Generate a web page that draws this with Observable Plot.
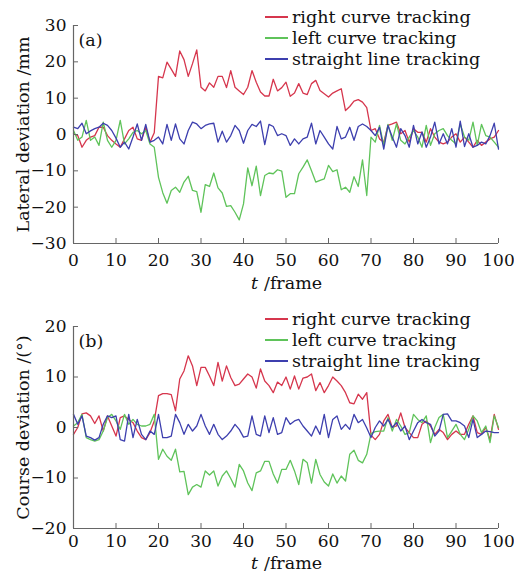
<!DOCTYPE html>
<html><head><meta charset="utf-8">
<script src="https://cdn.jsdelivr.net/npm/d3@7"></script>
<script src="https://cdn.jsdelivr.net/npm/@observablehq/plot@0.6"></script>
<style>
body{margin:0;background:#fff;}
#wrap{position:relative;width:514px;height:578px;font-family:"DejaVu Serif",serif;background:#fff;}
#wrap svg{display:block;}
.legend{position:absolute;font-size:17.5px;line-height:21px;color:#111;}
.legend .row{display:flex;align-items:center;white-space:nowrap;height:21px;}
.legend .sw{display:inline-block;width:23px;height:1.5px;margin-right:4px;}
</style></head><body><div id="wrap"></div>
<script>
const frames = d3.range(0, 101);
const xTicks = [0,10,20,30,40,50,60,70,80,90,100];
const latTicks = [-30,-20,-10,0,10,20,30];
const courseTicks = [-20,-10,0,10,20];
const seriesNames = ["right curve tracking","left curve tracking","straight line tracking"];
const seriesColors = ["#d6364d","#5fc35a","#3d3fae"];

// (a) Lateral deviation /mm
const latRight = [0.2,-0.3,-3.5,-1.6,-0.7,-0.3,2.0,2.0,-0.3,-1.6,-2.6,-3.5,-1.2,1.1,2.0,-1.2,-1.6,2.0,-2.1,0.5,
  16,15.6,19.9,18,16,23,20.6,16,19.5,23.3, 13,12,14.2,13,16,16,12.9,17.6,13,12,
  11,13,17.6,14.4,11.7,10.6,10.6,15.2,12,12.9, 14.4,10.5,11.4,14,11.4,11,14,14.9,12.1,11.2,
  10.3,11.4,12,12.6,6.6,7.7,9.2,9.6,8.9,7.4,
  1.1,1.6,-1.2,-2.1,2.5,2.9,3.4,0.2,1.1,-2.1,1.6,0.6,0.6,-2.1,1.6,-0.7,-2.1,-2.6,-2.1,-0.7,0.2,-2.1,-0.7,-2.1,-3.5,-1.6,-3.0,-2.1,-1.2,-0.7,1.1];
const latLeft = [1.1,-1.6,-0.7,3.9,-1.6,-0.7,-3.0,3.4,-1.6,-3.5,-1.6,3.9,-2.6,-1.2,0.6,1.1,0.2,1.1,-2.6,-3.5,
  -11.8,-16,-18.9,-15.4,-14.5,-15.9,-13.1,-11.5,-15.4,-15.7, -21.4,-13.8,-14.3,-10.6,-14.7,-16.1,-19.8,-19.6,-21.4,-23.5,
  -19.1,-9.2,-14.1,-8.7,-16.8,-11.3,-10.6,-10.8,-9.7,-10.1, -17.3,-16.3,-16.3,-10.8,-9,-7,-10,-13.1,-12.6,-12.2,
  -8.5,-10.2,-9.7,-15.2,-14.5,-15.9,-11.6,-14.3,-7,-16.8,
  -0.7,-2.1,2.5,-3.0,2.8,-1.6,2.9,-1.6,-2.6,-0.7,1.1,-0.7,-3.5,2.5,-3.0,0.2,1.1,1.6,-0.3,-1.6,-2.6,2.9,-0.7,-1.6,3.4,-3.0,2.8,-0.3,-0.7,-2.1,-3.5];
const latStraight = [2.0,1.6,3.1,0.2,1.0,1.6,2.0,3.1,2.5,1.1,-1.0,-3.5,-2.1,-4.0,-0.7,2.9,-1.6,2.8,-2.1,-1.6,
  -0.7,-2.6,2.8,-1.6,2.9,-1.2,-2.6,1.1,3.4,2.9, 1.6,2.5,2.9,3.1,-2.1,0.9,-2.1,-0.3,2.5,1.1,
  -2.4,1.1,2.8,2.2,3.7,-2.8,2.8,2.2,-0.3,
  0.2,-0.3,-3.0,-1.2,-2.6,-1.2,-0.7,3.1,-2.6,1.1,-0.7,-2.6,-4.0,2.2,-1.2,-0.7,2.0,-1.6,2.2,2.9,2.2,
  1.1,-0.3,2.0,-4.0,2.5,-0.7,-3.5,1.6,-0.3,-3.5,2.5,-2.6,0.7,-3.5,-0.7,3.4,-2.6,0.2,-2.6,1.6,-3.5,3.7,-3.3,0.2,-3.5,-3.0,-2.1,-2.6,-0.3,3.1,-4.0];

// (b) Course deviation /(°)
const courseRight = [-1.36,0,2.7,2.9,2.3,0.8,2.3,-0.7,2.3,0.3,-1.7,1.96,2.3,1.6,0.96,-0.7,-2.0,-2.4,-1.0,1.3,
  6.3,6.7,6.7,6.5,3.3,9.6,11.2,14.2,12.2,8.3, 11.9,11.9,10.2,8.3,12.9,9.2,12.2,9.9,8.3,8.6,
  9.6,10.6,10,7.8,11.6,9.2,8.3,6.9,9,8.3, 10,7.6,10.2,7.6,9.8,10,10.6,7.3,8.9,6.9,
  8.3,10,9.2,8.3,6.9,4.9,4.7,6.6,5.6,6.9,
  -1.5,-2.4,-1.36,1.3,2.6,0,0.3,2.9,0,-1.0,-2.0,-2.0,0.63,1.3,0.3,-1.36,-0.37,-1.0,-2.4,-1.36,-0.7,-1.36,-1.36,0.63,2.3,-1.0,-1.36,0,-2.4,2.6,-0.37];
const courseLeft = [0.3,0.96,2.6,-2.0,-2.4,-2.7,-2.4,-0.7,1.96,2.6,1.3,-0.37,2.6,0.63,1.6,0.63,0.3,0.3,0.63,2.6,
  -6.3,-4.3,-5.7,-6.5,-4.3,-8.8,-8.7,-13.3,-11.8,-11.3, -11.8,-8.6,-9.4,-8.6,-11.6,-9.6,-8.6,-10.1,-11.8,-7.3,
  -8.6,-11,-12.5,-9,-8.6,-6.7,-6.7,-9.2,-11,-8.3, -8.3,-6.5,-8.6,-11.3,-6.3,-7,-11,-6.3,-9.3,-10.8,
  -11.6,-9.2,-11,-9.6,-10.6,-5.3,-4.5,-6.5,-7,-5.3,
  -1.2,-0.8,-0.7,-0.7,1.96,-0.7,1.6,0.3,-1.36,-1.0,2.6,1.6,0.96,2.3,-3.0,0,1.96,2.6,-2.0,-0.7,0.63,-1.36,-2.4,-0.37,2.3,1.3,-1.0,0.3,-3.0,2.3,0];
const courseStraight = [2.6,0.63,2.3,-1.7,-2.0,-2.5,-2.0,0.63,2.3,1.96,2.3,-2.4,-2.7,2.6,-2.0,1.6,-1.36,-2.4,-0.7,-1.36,
  2.6,-2.0,-2.0,-1.7,2.6,0.96,-1.36,0.63,-0.7,0.3, 2.6,0.3,-1.36,0.63,-1.36,-2.4,-1.7,-0.7,0.63,-0.37,
  -1.9,-1.7,2.3,-1.36,-1.7,2.3,-1.0,1.96,-1.36,-1.0,
  1.96,0.63,1.3,1.6,0.3,-0.7,-1.7,0.3,-1.36,2.6,-2.0,1.6,2.3,-0.37,0.63,-0.37,2.6,0.96,1.6,-0.1,
  -2.0,0,1.3,0.3,1.6,0,0.96,-0.7,0.3,-2.4,-0.7,0.96,1.6,0.96,0.63,-1.7,-0.7,2.6,2.7,1.3,1.3,0.96,0.3,-2.0,1.6,-2.0,-1.36,-0.7,-0.8,-1.0,-1.0];

const fmt = d => d < 0 ? "\u2212" + Math.abs(d) : String(d);

function panel({values, yDomain, yTicks, yLabel, tag, height, marginTop, marginBottom, tickPad, xLabelDy}) {
  const rows = [];
  seriesNames.forEach((s, i) => values[i].forEach((v, j) => rows.push({frame: frames[j], value: v, series: s})));
  return Plot.plot({
    width: 514, height, marginLeft: 73, marginRight: 16, marginTop, marginBottom,
    style: {fontFamily: '"DejaVu Serif", serif', fontSize: "17px", color: "#111", background: "#fff", overflow: "visible"},
    x: {domain: [0, 100]},
    y: {domain: yDomain},
    color: {domain: seriesNames, range: seriesColors},
    marks: [
      Plot.line(rows, {x: "frame", y: "value", z: "series", stroke: "series", strokeWidth: 1.3}),
      Plot.ruleX([0], {stroke: "#666", strokeWidth: 1.2}),
      Plot.ruleY([yDomain[0]], {stroke: "#666", strokeWidth: 1.2}),
      Plot.axisY({ticks: yTicks, tickSize: -5, tickPadding: 12, tickFormat: fmt, stroke: "#666", fill: "#111", label: null}),
      Plot.axisX({ticks: xTicks, tickSize: -5, tickPadding: tickPad, tickFormat: fmt, stroke: "#666", fill: "#111", label: null}),
      Plot.text([yLabel], {frameAnchor: "left", rotate: -90, dx: -50, textAnchor: "middle", lineAnchor: "middle", fill: "#111", fontSize: 17.5}),
      Plot.text([tag], {frameAnchor: "top-left", dx: 5, dy: 15, lineAnchor: "middle", textAnchor: "start", fill: "#111", fontSize: 17.5}),
      Plot.text(["t"], {frameAnchor: "bottom", dx: -35, dy: xLabelDy, fontStyle: "italic", textAnchor: "start", lineAnchor: "middle", fill: "#111", fontSize: 17.5}),
      Plot.text(["/frame"], {frameAnchor: "bottom", dx: -22, dy: xLabelDy, textAnchor: "start", lineAnchor: "middle", fill: "#111", fontSize: 17.5})
    ]
  });
}

function legend(top) {
  const div = document.createElement("div");
  div.className = "legend";
  div.style.left = "265px";
  div.style.top = top + "px";
  seriesNames.forEach((s, i) => {
    const row = document.createElement("div");
    row.className = "row";
    const sw = document.createElement("span");
    sw.className = "sw";
    sw.style.background = seriesColors[i];
    row.appendChild(sw);
    row.appendChild(document.createTextNode(s));
    div.appendChild(row);
  });
  return div;
}

const wrap = document.getElementById("wrap");
wrap.appendChild(panel({values: [latRight, latLeft, latStraight], yDomain: [-30, 30], yTicks: latTicks,
  yLabel: "Lateral deviation /mm", tag: "(a)", height: 295, marginTop: 25, marginBottom: 52, tickPad: 15, xLabelDy: 40}));
wrap.appendChild(panel({values: [courseRight, courseLeft, courseStraight], yDomain: [-20, 20], yTicks: courseTicks,
  yLabel: "Course deviation /(°)", tag: "(b)", height: 283, marginTop: 31, marginBottom: 50, tickPad: 11, xLabelDy: 35}));
wrap.appendChild(legend(6.5));
wrap.appendChild(legend(308.5));
</script></body></html>
